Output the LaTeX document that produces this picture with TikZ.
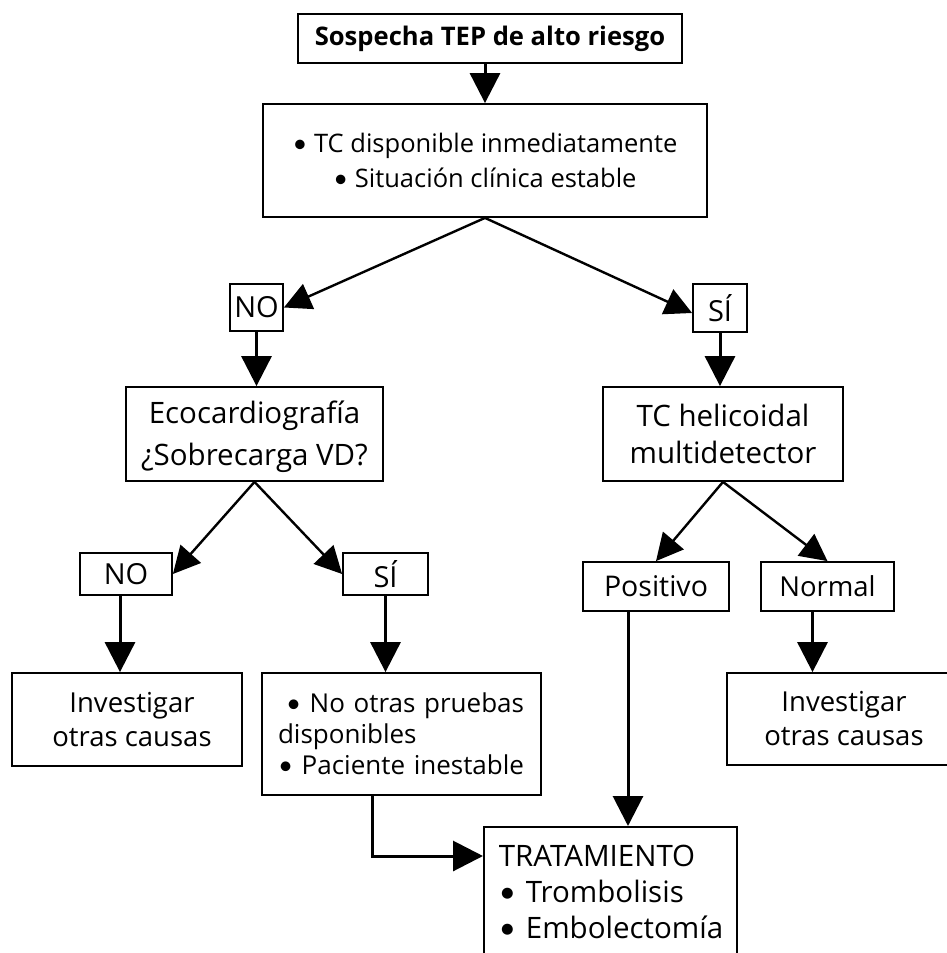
\documentclass[tikz,border=0pt]{standalone}
\usepackage{fontspec}
\setmainfont{Open Sans}
\newfontfamily\bulletfont{Lato}
\newcommand{\bul}{{\bulletfont •}}
\usetikzlibrary{arrows.meta}
\begin{document}
\begin{tikzpicture}[x=1pt,y=-1pt,
  box/.style={draw, line width=1.8pt, inner sep=0pt, align=center,
    font=\fontsize{27.5}{34}\selectfont},
  conn/.style={line width=3pt, -{Triangle[width=30pt,length=30pt]}},
  dconn/.style={line width=2.4pt, -{Triangle[width=27pt,length=27pt]}}]
\useasboundingbox (0,0) rectangle (947,953);
\clip (0,0) rectangle (947,953);
% nodes
\node[box, minimum width=384, minimum height=49, font=\bfseries\fontsize{25.6}{34}\selectfont] (top) at (490,38.5) {Sospecha TEP de alto riesgo};
\node[box, minimum width=444, minimum height=113, font=\fontsize{25.5}{35}\selectfont] (cond) at (485,160.5) {\bul\ TC disponible inmediatamente\\\bul\ Situación clínica estable};
\node[box, minimum width=53, minimum height=47, font=\fontsize{29}{34}\selectfont] (no1) at (256.5,307.5) {NO};
\node[box, minimum width=54, minimum height=48, font=\fontsize{29}{34}\selectfont] (si1) at (720,308) {SÍ};
\node[box, minimum width=257, minimum height=94, font=\fontsize{29.5}{42}\selectfont] (eco) at (254.5,434) {\rule{0pt}{28pt}Ecocardiografía\\¿Sobrecarga VD?};
\node[box, minimum width=240, minimum height=94, font=\fontsize{29.5}{37}\selectfont] (tch) at (723,434) {TC helicoidal\\multidetector};
\node[box, minimum width=92, minimum height=42, font=\fontsize{29}{34}\selectfont] (no2) at (126,574) {NO};
\node[box, minimum width=85, minimum height=42, font=\fontsize{29}{34}\selectfont] (si2) at (385.5,574) {SÍ};
\node[box, minimum width=146, minimum height=49, font=\fontsize{28.5}{34}\selectfont] (pos) at (656,586.5) {Positivo};
\node[box, minimum width=133, minimum height=49] (nor) at (827.5,586.5) {Normal};
\node[box, minimum width=230, minimum height=93] (inv1) at (127,719.5) {\hspace*{10pt}Investigar\\\hspace*{10pt}otras causas};
\node[box, minimum width=234, minimum height=92] (inv2) at (844,719) {Investigar\\otras causas};
\node[box, align=left, text width=247, inner xsep=16pt, minimum height=122, font=\fontsize{26}{31}\selectfont] (nop) at (401.5,734) {\hspace*{8pt}\bul\ No otras pruebas\\disponibles\\\bul\ Paciente inestable};
\node[box, align=left, anchor=north west, text width=229, inner xsep=12pt, inner ysep=18pt, font=\fontsize{29.5}{36}\selectfont] (trat) at (483,826) {\mbox{\hspace*{3pt}TRATAMIENTO}\\\mbox{\hspace*{3pt}\bul\ Trombolisis}\\\mbox{\hspace*{3pt}\bul\ Embolectomía}};
% connectors
\draw[conn] (top.south -| cond.north) -- (cond.north);
\draw[dconn] (cond.south) -- (no1.east);
\draw[dconn] (cond.south) -- ([yshift=-5pt]si1.west);
\draw[conn] (no1.south) -- (no1.south |- eco.north);
\draw[conn] (si1.south) -- (si1.south |- tch.north);
\draw[dconn] (eco.south) -- (no2.east);
\draw[dconn] (eco.south) -- (si2.west);
\draw[dconn] (tch.south) -- (pos.north);
\draw[dconn] (tch.south) -- (nor.north);
\draw[conn] ([xshift=-6pt]no2.south) -- ([xshift=-6pt]no2.south |- inv1.north);
\draw[conn] (si2.south) -- (si2.south |- nop.north);
\draw[conn] ([xshift=-15pt]nor.south) -- ([xshift=-15pt]nor.south |- inv2.north);
\coordinate (bend) at (372,856);
\draw[conn] (bend |- nop.south) -- (bend) -- (bend -| trat.west);
\draw[conn] ([xshift=-28pt]pos.south) -- ([xshift=-28pt]pos.south |- trat.north);
\end{tikzpicture}
\end{document}
